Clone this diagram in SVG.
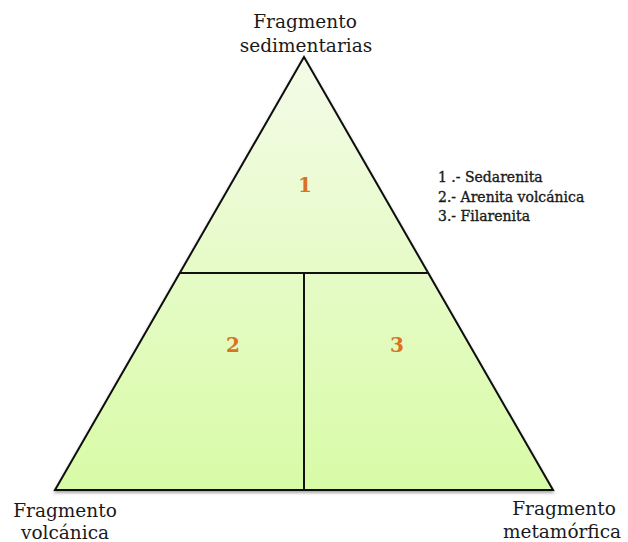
<svg xmlns="http://www.w3.org/2000/svg" width="628" height="542" viewBox="0 0 628 542">
<style>
.lbl{font-family:"DejaVu Serif","Liberation Serif",serif;font-size:18.5px;fill:#1a1a1a;text-anchor:middle}
.leg{font-family:"DejaVu Serif","Liberation Serif",serif;font-size:14px;fill:#1a1a1a;stroke:#1a1a1a;stroke-width:0.35}
.num{font-family:"DejaVu Serif","Liberation Serif",serif;font-size:20px;font-weight:bold;fill:#d9731f;text-anchor:middle}
.ln{stroke:#111;stroke-width:2;fill:none}
</style>
<defs>
<linearGradient id="g" x1="0" y1="0" x2="0" y2="1">
<stop offset="0" stop-color="#f4fbe8"/>
<stop offset="1" stop-color="#d8fba6"/>
</linearGradient>
<filter id="sh" x="-10%" y="-10%" width="120%" height="120%">
<feDropShadow dx="0" dy="2" stdDeviation="1.5" flood-color="#000" flood-opacity="0.35"/>
</filter>
</defs>
<g id="triangle">
<polygon points="304,57 55,490 553,490" fill="url(#g)" stroke="#111" stroke-width="2" stroke-linejoin="miter" filter="url(#sh)"/>
</g>
<g id="connectors">
<line class="ln" x1="180" y1="273" x2="428" y2="273"/>
<line class="ln" x1="304" y1="273" x2="304" y2="490"/>
</g>
<g id="region1"><text class="num" x="305" y="192">1</text></g>
<g id="region2"><text class="num" x="233" y="352">2</text></g>
<g id="region3"><text class="num" x="397" y="352">3</text></g>
<g id="label-top">
<text class="lbl" x="305" y="28">Fragmento</text>
<text class="lbl" x="306" y="52">sedimentarias</text>
</g>
<g id="label-left">
<text class="lbl" x="65" y="517">Fragmento</text>
<text class="lbl" x="65" y="539">volcánica</text>
</g>
<g id="label-right">
<text class="lbl" x="564" y="515">Fragmento</text>
<text class="lbl" x="562" y="538">metamórfica</text>
</g>
<g id="legend">
<text class="leg" x="438" y="182">1 .- Sedarenita</text>
<text class="leg" x="438" y="202">2.- Arenita volcánica</text>
<text class="leg" x="438" y="221">3.- Filarenita</text>
</g>
</svg>
